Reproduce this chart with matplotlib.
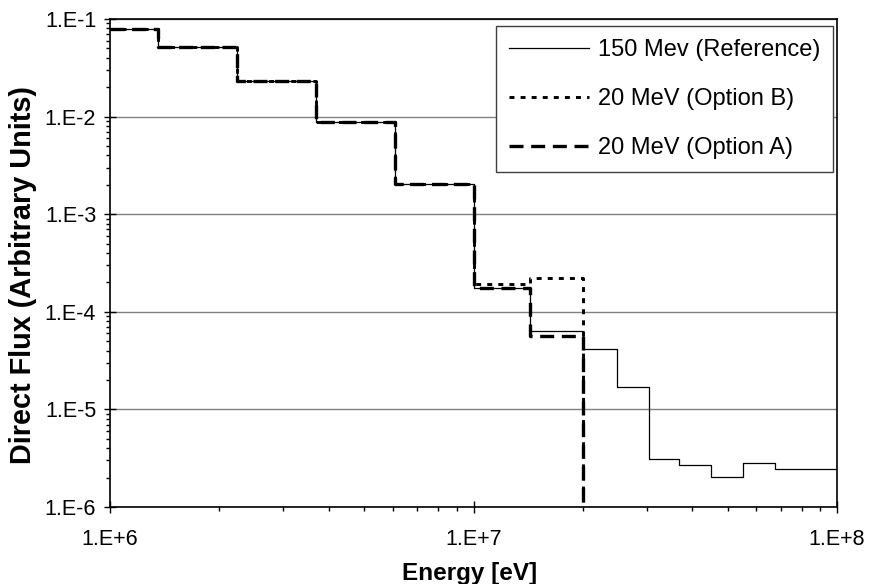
import numpy as np
import matplotlib
matplotlib.use("Agg")
import matplotlib.pyplot as plt
from matplotlib.ticker import LogLocator, FuncFormatter, NullFormatter

plt.rcParams['font.family'] = ['Liberation Sans', 'DejaVu Sans']

# energy group boundaries [eV]
edges = [1.0e6, 1.353e6, 2.231e6, 3.679e6, 6.065e6, 1.0e7, 1.43e7, 2.0e7,
         2.48e7, 3.03e7, 3.67e7, 4.49e7, 5.5e7, 6.74e7, 1.0e8]

# flux per group
flux_ref = [7.9e-2, 5.16e-2, 2.33e-2, 8.75e-3, 2.02e-3, 1.75e-4, 6.3e-5,
            4.15e-5, 1.68e-5, 3.1e-6, 2.69e-6, 2.03e-6, 2.8e-6, 2.43e-6]
flux_b = [7.9e-2, 5.16e-2, 2.33e-2, 8.75e-3, 2.02e-3, 1.93e-4, 2.2e-4,
          0, 0, 0, 0, 0, 0, 0]
flux_a = [7.9e-2, 5.16e-2, 2.33e-2, 8.75e-3, 2.02e-3, 1.75e-4, 5.65e-5,
          0, 0, 0, 0, 0, 0, 0]

labels = ["150 Mev (Reference)", "20 MeV (Option B)", "20 MeV (Option A)"]


def stairs(e, v, stop=None):
    # histogram outline: each group drawn flat between its two edges
    e = np.asarray(e)
    v = np.asarray(v, dtype=float)
    x = np.repeat(e, 2)[1:-1]
    y = np.repeat(v, 2)
    if stop is not None:
        keep = x <= stop
        x, y = x[keep], y[keep]
        # drop to zero at the cutoff energy
        x = np.append(x, stop)
        y = np.append(y, 0.0)
    return x, y


fig = plt.figure(figsize=(8.69, 5.84), dpi=100)
ax = fig.add_axes([0.1266, 0.1318, 0.8366, 0.8357])
ax.set_xscale('log')
ax.set_yscale('log', nonpositive='clip')

ax.yaxis.grid(True, which='major', color='#808080', lw=1.0)
ax.set_axisbelow(True)

x, y = stairs(edges, flux_ref)
ax.plot(x, y, color='black', lw=0.9, label=labels[0])
x, y = stairs(edges, flux_b, stop=2.0e7)
ax.plot(x, y, color='black', lw=2.1, dashes=(1.7, 2.1), label=labels[1])
x, y = stairs(edges, flux_a, stop=2.0e7)
ax.plot(x, y, color='black', lw=2.4, dashes=(4.2, 2.3), label=labels[2])

ax.set_xlim(1e6, 1e8)
ax.set_ylim(1e-6, 1e-1)

fmt = FuncFormatter(lambda v, p: "1.E{:+d}".format(int(round(np.log10(v)))))
for a in (ax.xaxis, ax.yaxis):
    a.set_major_locator(LogLocator(base=10, numticks=10))
    a.set_minor_locator(LogLocator(base=10, subs=np.arange(2, 10), numticks=20))
    a.set_major_formatter(fmt)
    a.set_minor_formatter(NullFormatter())

ax.tick_params(which='major', direction='inout', length=8, width=1,
               labelsize=15.5, pad=6)
ax.tick_params(axis='x', which='major', pad=12)
ax.tick_params(which='minor', direction='out', length=3, width=1)
for s in ax.spines.values():
    s.set_linewidth(1.2)

ax.set_xlabel("Energy [eV]", fontsize=17.5, fontweight='bold')
ax.set_ylabel("Direct Flux (Arbitrary Units)", fontsize=20.8, fontweight='bold')
ax.xaxis.set_label_coords(0.494, -0.112)
ax.yaxis.set_label_coords(-0.1, 0.475)

leg = ax.legend(loc='upper right', bbox_to_anchor=(0.9945, 0.9857),
                borderaxespad=0, fontsize=17, handlelength=3.4,
                handletextpad=0.35, labelspacing=1.15, borderpad=0.55,
                fancybox=False, framealpha=1)
leg.get_frame().set_edgecolor('#404040')
leg.get_frame().set_linewidth(1.0)

fig.savefig("out.png", dpi=100)
